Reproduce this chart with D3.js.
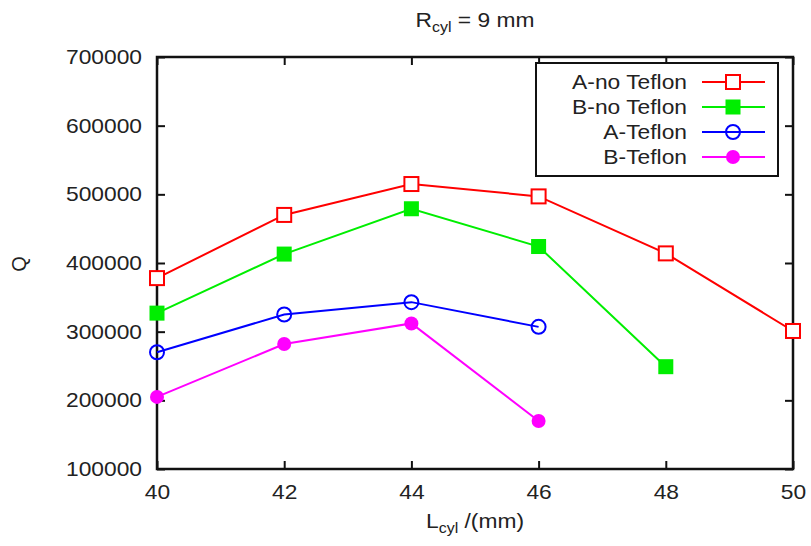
<!DOCTYPE html>
<html><head><meta charset="utf-8">
<script src="https://cdn.jsdelivr.net/npm/d3@7"></script>
<style>body{margin:0;background:#fff}svg{display:block}text{font-family:"Liberation Sans",Arial,sans-serif;fill:#222}</style>
</head><body><svg id="c" width="811" height="546"></svg>
<script>
const xTicks = [40, 42, 44, 46, 48, 50];
const yTicks = [100000, 200000, 300000, 400000, 500000, 600000, 700000];
const seriesNames = ["A-no Teflon", "B-no Teflon", "A-Teflon", "B-Teflon"];
const seriesColors = ["#ff0000", "#00ee00", "#0000ff", "#ff00ff"];
const seriesMarkers = ["squareOpen", "squareFilled", "circleOpen", "circleFilled"];
const xA = [40, 42, 44, 46, 48, 50];
const yA = [378000, 470000, 515000, 497000, 414000, 301000];
const xB = [40, 42, 44, 46, 48];
const yB = [327000, 413000, 479000, 424000, 249000];
const xC = [40, 42, 44, 46];
const yC = [270000, 325000, 343000, 307000];
const xD = [40, 42, 44, 46];
const yD = [205000, 282000, 312000, 170000];
const seriesX = [xA, xB, xC, xD];
const seriesY = [yA, yB, yC, yD];

const svg = d3.select("#c");
const L = 157, R = 793, T = 57, B = 469;
const x = d3.scaleLinear().domain([40, 50]).range([L, R]);
const y = d3.scaleLinear().domain([100000, 700000]).range([B, T]);
const fs = 20, SX = 1.14;

function stretch(sel) {
  sel.each(function () {
    const t = d3.select(this);
    const ox = +(t.attr("x") || 0);
    t.attr("x", ox / SX).attr("transform", `scale(${SX},1)`);
  });
}

// axes
const gx = svg.append("g").attr("transform", `translate(0,${B})`)
  .call(d3.axisBottom(x).tickValues(xTicks).tickSize(-8).tickPadding(16).tickFormat(d3.format("d")));
const gxt = svg.append("g").attr("transform", `translate(0,${T})`)
  .call(d3.axisTop(x).tickValues(xTicks).tickSize(-8).tickFormat(""));
const gy = svg.append("g").attr("transform", `translate(${L},0)`)
  .call(d3.axisLeft(y).tickValues(yTicks).tickSize(-8).tickPadding(15).tickFormat(d3.format("d")));
const gyr = svg.append("g").attr("transform", `translate(${R},0)`)
  .call(d3.axisRight(y).tickValues(yTicks).tickSize(-8).tickFormat(""));
[gx, gxt, gy, gyr].forEach(g => {
  g.select(".domain").remove();
  g.selectAll(".tick line").attr("stroke", "#111").attr("stroke-width", 2);
  g.selectAll("text").attr("font-size", fs).attr("fill", "#222").attr("font-family", "Liberation Sans, Arial, sans-serif");
});
stretch(gx.selectAll("text"));
stretch(gy.selectAll("text"));
svg.append("rect").attr("x", L).attr("y", T).attr("width", R - L).attr("height", B - T)
  .attr("fill", "none").attr("stroke", "#111").attr("stroke-width", 2.5);

function marker(g, type, color, cx, cy) {
  if (type === "squareOpen") g.append("rect").attr("x", cx - 7).attr("y", cy - 7).attr("width", 14).attr("height", 14).attr("fill", "#fff").attr("stroke", color).attr("stroke-width", 2);
  else if (type === "squareFilled") g.append("rect").attr("x", cx - 7.5).attr("y", cy - 7.5).attr("width", 15).attr("height", 15).attr("fill", color);
  else if (type === "circleOpen") g.append("circle").attr("cx", cx).attr("cy", cy).attr("r", 7).attr("fill", "none").attr("stroke", color).attr("stroke-width", 2);
  else g.append("circle").attr("cx", cx).attr("cy", cy).attr("r", 7).attr("fill", color);
}

const line = d3.line().x(d => x(d[0])).y(d => y(d[1]));
seriesNames.forEach((n, i) => {
  const pts = seriesX[i].map((v, j) => [v, seriesY[i][j]]);
  const g = svg.append("g");
  g.append("path").datum(pts).attr("d", line).attr("fill", "none").attr("stroke", seriesColors[i]).attr("stroke-width", 2);
  pts.forEach(p => marker(g, seriesMarkers[i], seriesColors[i], x(p[0]), y(p[1])));
});

// legend
const lg = svg.append("g");
lg.append("rect").attr("x", 536).attr("y", 63).attr("width", 242).attr("height", 113)
  .attr("fill", "#fff").attr("stroke", "#111").attr("stroke-width", 2);
seriesNames.forEach((n, i) => {
  const cy = 82 + i * 25;
  lg.append("text").attr("x", 687).attr("y", cy + 7).attr("text-anchor", "end").attr("font-size", fs).text(n);
  lg.append("line").attr("x1", 702).attr("x2", 765).attr("y1", cy).attr("y2", cy).attr("stroke", seriesColors[i]).attr("stroke-width", 2);
  marker(lg, seriesMarkers[i], seriesColors[i], 733, cy);
});
stretch(lg.selectAll("text"));

// title
const t = svg.append("text").attr("x", 475).attr("y", 27).attr("text-anchor", "middle").attr("font-size", 20);
t.append("tspan").text("R");
t.append("tspan").attr("font-size", 14).attr("dy", 5).text("cyl");
t.append("tspan").attr("dy", -5).text(" = 9 mm");
stretch(t);

// x label
const xl = svg.append("text").attr("x", 475).attr("y", 528).attr("text-anchor", "middle").attr("font-size", fs);
xl.append("tspan").text("L");
xl.append("tspan").attr("font-size", 14).attr("dy", 5).text("cyl");
xl.append("tspan").attr("dy", -5).text(" /(mm)");
stretch(xl);

// y label
svg.append("text").attr("transform", "translate(26,264) rotate(-90)").attr("text-anchor", "middle").attr("font-size", fs).text("Q");
</script></body></html>
